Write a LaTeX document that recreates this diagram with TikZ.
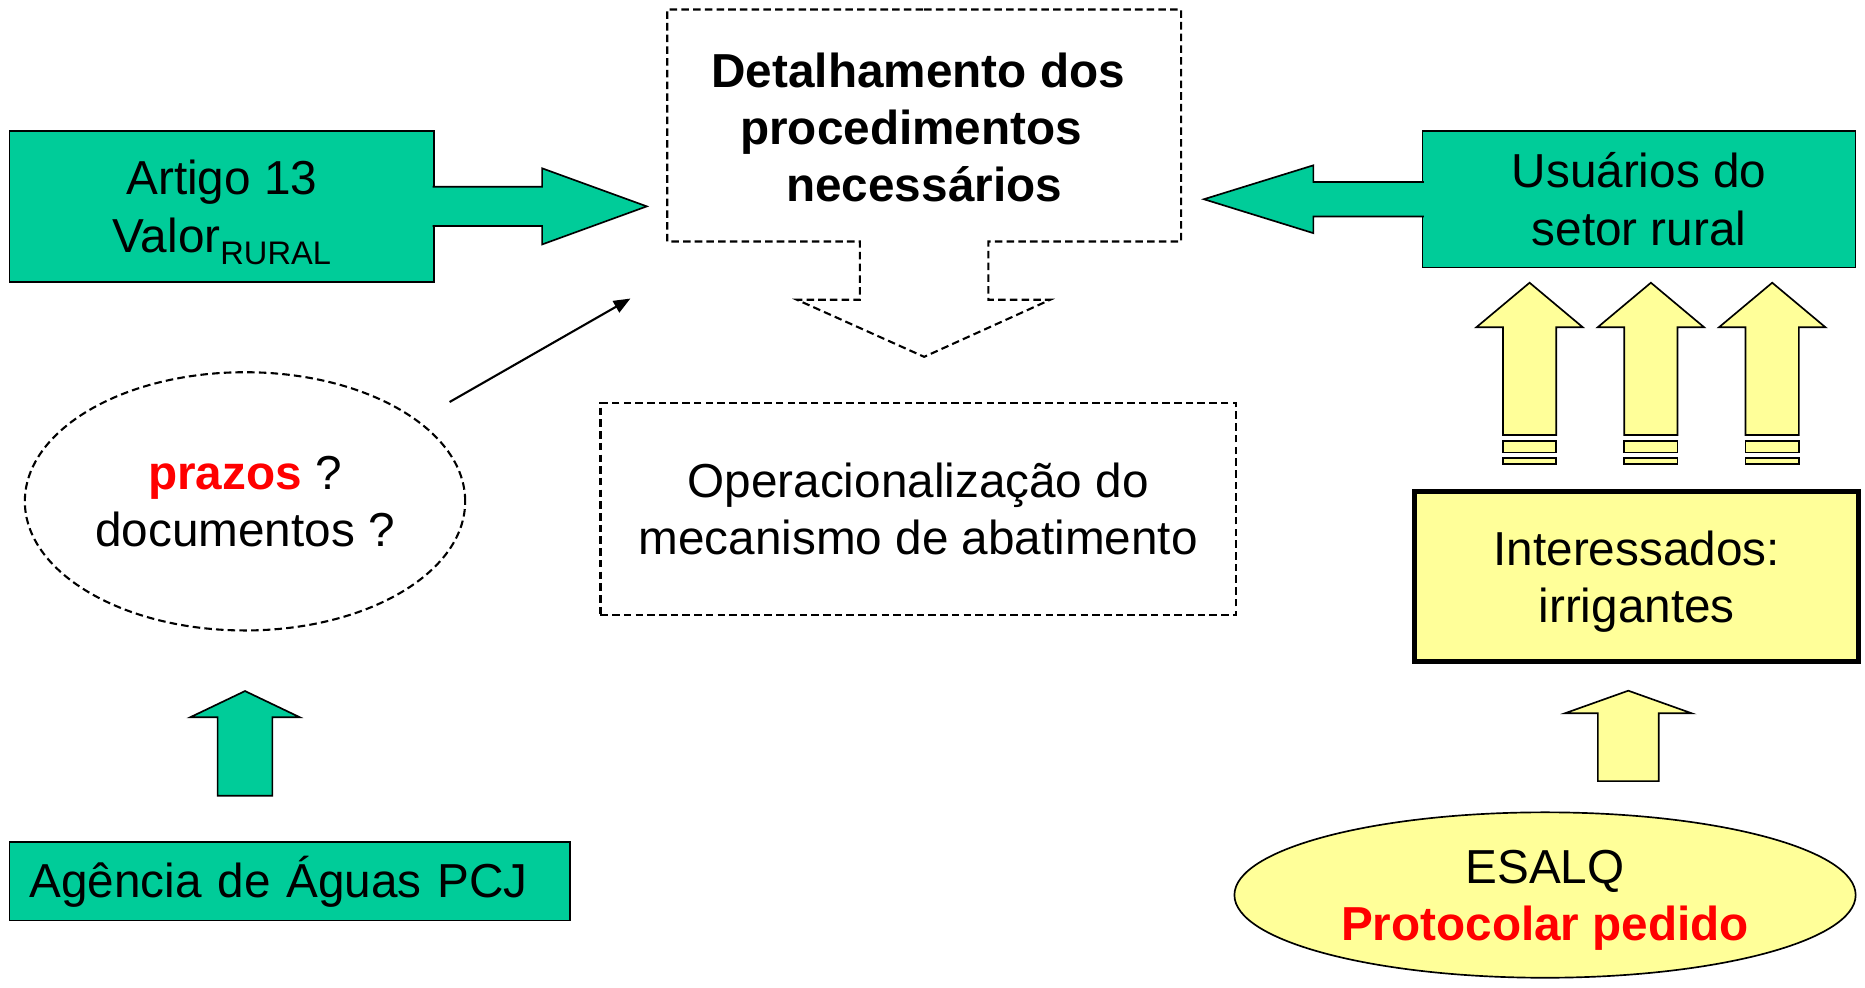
\documentclass[tikz,border=0pt]{standalone}
\usepackage{fontspec}
\setmainfont{Liberation Sans}
\usepackage{xcolor}
\usetikzlibrary{shapes.geometric, arrows.meta, positioning}

\definecolor{agua}{RGB}{0,204,153}
\definecolor{palha}{RGB}{255,255,153}
\definecolor{alerta}{RGB}{255,0,0}

\begin{document}
\begin{tikzpicture}[
  x=0.01cm, y=-0.01cm,
  font=\fontsize{11.4}{13.7}\selectfont,
  box/.style={rectangle, draw, line width=0.4pt, align=center, inner sep=0pt},
  greenbox/.style={box, fill=agua},
  yellowbox/.style={box, fill=palha, line width=1.2pt},
  dashln/.style={line width=0.5pt, dash pattern=on 1.8pt off 1pt},
  oval/.style={ellipse, draw, line width=0.4pt, inner sep=0pt, align=center},
  blockg/.style={fill=agua, draw, line width=0.4pt},
  blocky/.style={fill=palha, draw, line width=0.4pt},
  arr/.style={-{Triangle[length=0.14cm, width=0.11cm]}, line width=0.5pt}
]
\useasboundingbox (0,0) rectangle (1568,830);

%% ── TOP ROW: source boxes and the central dashed box ────────────────
\node[greenbox, minimum width=3.57cm, minimum height=1.27cm, text depth=0pt] at (186.5,173.5) (art)
  {Artigo 13\\Valor\raisebox{-2.8pt}{\fontsize{7.8}{9}\selectfont RURAL}};
\node[box, draw=none, minimum width=4.32cm, minimum height=1.95cm,
      font=\fontsize{11.4}{13.7}\selectfont\bfseries] at (777,107) (det)
  {Detalhamento dos\kern0.1cm\\procedimentos\kern0.22cm\\necessários};
\node[greenbox, minimum width=3.64cm, minimum height=1.15cm] at (1378,167.5) (usu)
  {Usuários do\\setor rural};

%% ── MIDDLE ROW ───────────────────────────────────────────────────────
\node[oval, dashln, minimum width=3.70cm, minimum height=2.17cm] at (206,421.5) (prz)
  {\textcolor{alerta}{\bfseries prazos} ?\\documentos ?};
\node[box, dashln, minimum width=5.34cm, minimum height=1.78cm] at (772,428) (oper)
  {Operacionalização do\\mecanismo de abatimento};
\node[yellowbox, minimum width=3.73cm, minimum height=1.43cm, text depth=0pt] at (1376,485) (inter)
  {Interessados:\\irrigantes};

%% ── BOTTOM ROW ───────────────────────────────────────────────────────
\node[greenbox, minimum width=4.71cm, minimum height=0.66cm,
      text width=4.37cm, align=left] at (243.5,741) (ag) {Agência de Águas PCJ};
\node[oval, fill=palha, minimum width=5.22cm, minimum height=1.39cm, text depth=0pt] at (1299,752.5) (esalq)
  {ESALQ\\\textcolor{alerta}{\bfseries Protocolar pedido}};

%% ── Dashed outline of det, with its hollow arrow below ───────────────
\draw[dashln] (777,8) -| (993,203) -- ++(-162,0) -- ++(0,49) -- ++(52,0) -- ++(-106,48)
  -- ++(-107,-48) -- ++(53,0) -- ++(0,-49) -| (561,8) -- cycle;

%% ── Block arrows into det ────────────────────────────────────────────
\filldraw[blockg] (art.east) ++(-2,-16.5) -- ++(92,0) -- ++(0,-15.5) -- ++(88,32)
  -- ++(-88,32) -- ++(0,-15.5) -- ++(-92,0);
\filldraw[blockg] (usu.west) ++(2,-14.5) -- ++(-93,0) -- ++(0,-14) -- ++(-92,28.5)
  -- ++(92,28.5) -- ++(0,-14) -- ++(93,0);

%% ── Striped arrows: inter -> usu ─────────────────────────────────────
\foreach \cx in {1286,1388,1490} {
  \filldraw[blocky] (\cx,237.7) -- ++(44.8,37.5) -- ++(-22.4,0) -- ++(0,90.5)
    -- ++(-44.8,0) -- ++(0,-90.5) -- ++(-22.4,0) -- cycle;
  \filldraw[blocky] (\cx-22.4,370.8) rectangle ++(44.8,9.5);
  \filldraw[blocky] (\cx-22.4,385.3) rectangle ++(44.8,4.8);
}

%% ── Up arrows from the bottom row ────────────────────────────────────
\filldraw[blocky] (1369,580.7) -- ++(53.3,19) -- ++(-27.7,0) -- ++(0,57)
  -- ++(-51.2,0) -- ++(0,-57) -- ++(-27.7,0) -- cycle;
\filldraw[blockg] (206,581) -- ++(46,22) -- ++(-23,0) -- ++(0,66)
  -- ++(-46,0) -- ++(0,-66) -- ++(-23,0) -- cycle;

%% ── prz -> det pointer ───────────────────────────────────────────────
\coordinate (qa) at (378,338);
\coordinate (qb) at (530,251);
\draw[arr] (qa) -- (qb);

\end{tikzpicture}
\end{document}
